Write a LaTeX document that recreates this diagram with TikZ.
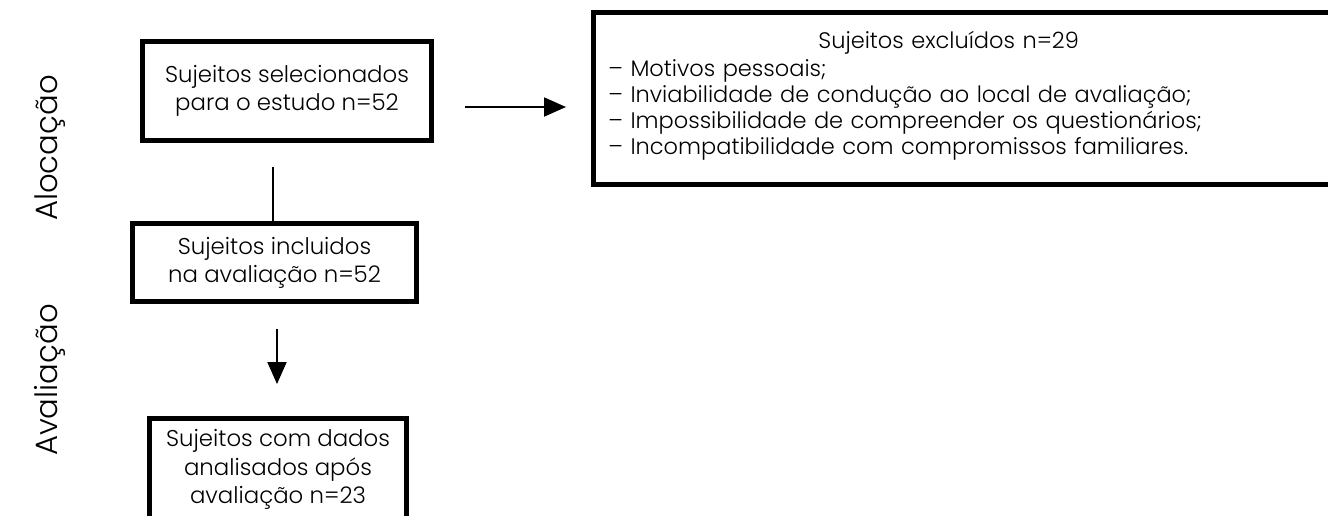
\documentclass[tikz,border=0pt]{standalone}
\usepackage{fontspec}
\setmainfont{Poppins}[UprightFont={* Light}]
\usepackage{tikz}
\usetikzlibrary{arrows.meta}

\tikzset{
  caixa/.style={draw, line width=2.8pt, align=center, inner sep=0pt,
    font=\fontsize{13}{16}\selectfont},
  fase/.style={rotate=90, font=\fontsize{17.5}{20}\selectfont},
  seta/.style={line width=1.1pt, -{Triangle[length=0.44cm,width=0.38cm]}},
  fio/.style={line width=1.1pt}
}

\begin{document}
\begin{tikzpicture}[x=0.02cm, y=-0.02cm]
   \useasboundingbox (0,0) rectangle (1328,515);

   % fases
   \node[fase] (aloc) at (50,148) {Alocação};
   \node[fase] (aval) at (50,380) {Avaliação};

   % caixas
   \node[caixa, minimum width=5.78cm, minimum height=1.98cm] (sel) at (287,91)
      {Sujeitos selecionados\\para o estudo n=52};
   \node[caixa, minimum width=5.68cm, minimum height=1.56cm] (inc) at (274.5,262.5)
      {Sujeitos incluidos\\na avaliação n=52};
   \node[caixa, minimum width=5.14cm, minimum height=2.12cm, anchor=north] (ana) at (278,416)
      {\\[-0.3cm]Sujeitos com dados\\analisados após\\avaliação n=23};
   \node[caixa, anchor=west, align=left, text width=14.5cm, minimum height=3.44cm,
         inner xsep=0.3cm, font={\fontsize{12.8}{12}\selectfont\lineskiplimit=-20pt\relax}] (exc) at (591,98.5)
      {\hspace*{4.2cm}Sujeitos excluídos n=29\\[3.9pt]
       – Motivos pessoais;\\[2.8pt]
       – Inviabilidade de condução ao local de avaliação;\\[2.8pt]
       – Impossibilidade de compreender os questionários;\\[2.8pt]
       – Incompatibilidade com compromissos familiares.\\[-5.8pt]\mbox{}};

   % ligacoes
   \coordinate (l1) at (273,167);
   \draw[fio] (l1) -- (l1 |- inc.north);
   \coordinate (d1) at (277,329);
   \coordinate (d2) at (277,384);
   \draw[seta] (d1) -- (d2);
   \coordinate (r1) at (465,107);
   \coordinate (r2) at (566,107);
   \draw[seta] (r1) -- (r2);
\end{tikzpicture}
\end{document}
